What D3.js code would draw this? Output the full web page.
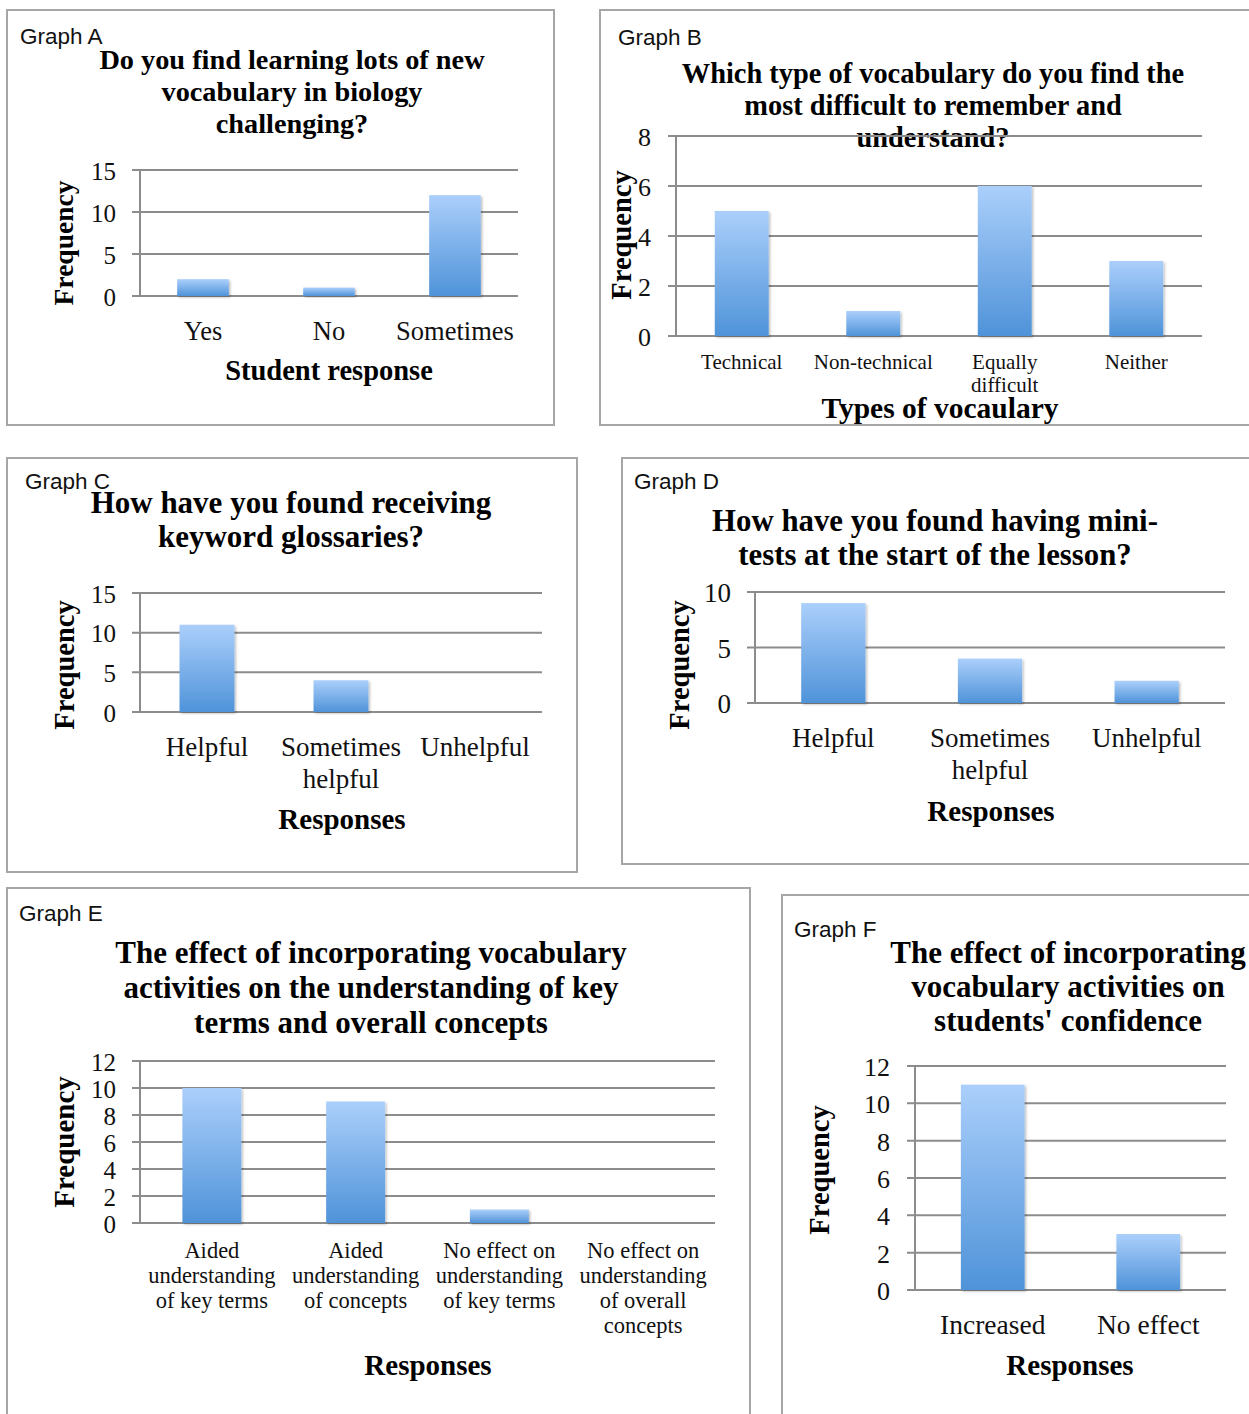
<!DOCTYPE html>
<html>
<head>
<meta charset="utf-8">
<script src="https://cdn.jsdelivr.net/npm/d3@7"></script>
<style>
  html, body { margin: 0; padding: 0; background: #fff; }
  svg { display: block; }
  .serif { font-family: "Liberation Serif", "Times New Roman", serif; }
  .sans { font-family: "Liberation Sans", Arial, sans-serif; }
</style>
</head>
<body>
<svg id="chart" width="1249" height="1414"></svg>
<script>
// ---- Survey results ----
const graphACategories = ["Yes", "No", "Sometimes"];
const graphAValues = [2, 1, 12];
const graphATicks = [0, 5, 10, 15];

const graphBCategories = ["Technical", "Non-technical", "Equally\ndifficult", "Neither"];
const graphBValues = [5, 1, 6, 3];
const graphBTicks = [0, 2, 4, 6, 8];

const graphCCategories = ["Helpful", "Sometimes\nhelpful", "Unhelpful"];
const graphCValues = [11, 4, 0];
const graphCTicks = [0, 5, 10, 15];

const graphDCategories = ["Helpful", "Sometimes\nhelpful", "Unhelpful"];
const graphDValues = [9, 4, 2];
const graphDTicks = [0, 5, 10];

const graphECategories = [
  "Aided\nunderstanding\nof key terms",
  "Aided\nunderstanding\nof concepts",
  "No effect on\nunderstanding\nof key terms",
  "No effect on\nunderstanding\nof overall\nconcepts"
];
const graphEValues = [10, 9, 1, 0];
const graphETicks = [0, 2, 4, 6, 8, 10, 12];

const graphFCategories = ["Increased", "No effect"];
const graphFValues = [11, 3];
const graphFTicks = [0, 2, 4, 6, 8, 10, 12];

// ---- Panel layouts ----
const panels = [
  {
    name: "Graph A", categories: graphACategories, values: graphAValues, ticks: graphATicks,
    title: ["Do you find learning lots of new", "vocabulary in biology", "challenging?"],
    xTitle: "Student response",
    frame: [7, 10, 547, 415], label: [20, 44],
    titleX: 292, titleY: 69, titleLH: 32, titleSize: 28.3,
    plot: { left: 140, right: 518, top: 170, bottom: 296 },
    tickX: 116, tickSize: 25, catY: 340, catSize: 26.5, catLH: 30,
    xTitlePos: [329, 380], xTitleSize: 28.5, yTitlePos: [65, 243], yTitleSize: 27.5
  },
  {
    name: "Graph B", categories: graphBCategories, values: graphBValues, ticks: graphBTicks,
    title: ["Which type of vocabulary do you find the", "most difficult to remember and", "understand?"],
    xTitle: "Types of vocaulary",
    frame: [600, 10, 660, 415], label: [618, 45],
    titleX: 933, titleY: 83, titleLH: 32, titleSize: 28.4,
    plot: { left: 676, right: 1202, top: 136, bottom: 336 },
    tickX: 651, tickSize: 26, catY: 369, catSize: 21, catLH: 23,
    xTitlePos: [940, 418], xTitleSize: 29.5, yTitlePos: [622, 235], yTitleSize: 28.5
  },
  {
    name: "Graph C", categories: graphCCategories, values: graphCValues, ticks: graphCTicks,
    title: ["How have you found receiving", "keyword glossaries?"],
    xTitle: "Responses",
    frame: [7, 458, 570, 414], label: [25, 489],
    titleX: 291, titleY: 513, titleLH: 34, titleSize: 31,
    plot: { left: 140, right: 542, top: 593, bottom: 712 },
    tickX: 116, tickSize: 25, catY: 756, catSize: 27, catLH: 32,
    xTitlePos: [342, 829], xTitleSize: 29, yTitlePos: [65, 665], yTitleSize: 28.5
  },
  {
    name: "Graph D", categories: graphDCategories, values: graphDValues, ticks: graphDTicks,
    title: ["How have you found having mini-", "tests at the start of the lesson?"],
    xTitle: "Responses",
    frame: [622, 458, 640, 406], label: [634, 489],
    titleX: 935, titleY: 531, titleLH: 34, titleSize: 30.8,
    plot: { left: 755, right: 1225, top: 592, bottom: 703 },
    tickX: 731, tickSize: 27, catY: 747, catSize: 27, catLH: 32,
    xTitlePos: [991, 821], xTitleSize: 29, yTitlePos: [680, 665], yTitleSize: 28.5
  },
  {
    name: "Graph E", categories: graphECategories, values: graphEValues, ticks: graphETicks,
    title: ["The effect of incorporating vocabulary", "activities on the understanding of key", "terms and overall concepts"],
    xTitle: "Responses",
    frame: [7, 888, 743, 540], label: [19, 921],
    titleX: 371, titleY: 963, titleLH: 35, titleSize: 31,
    plot: { left: 140, right: 715, top: 1061, bottom: 1223 },
    tickX: 116, tickSize: 25, catY: 1258, catSize: 22.5, catLH: 25,
    xTitlePos: [428, 1375], xTitleSize: 29, yTitlePos: [65, 1142], yTitleSize: 29
  },
  {
    name: "Graph F", categories: graphFCategories, values: graphFValues, ticks: graphFTicks,
    title: ["The effect of incorporating", "vocabulary activities on", "students' confidence"],
    xTitle: "Responses",
    frame: [782, 895, 480, 540], label: [794, 937],
    titleX: 1068, titleY: 963, titleLH: 34, titleSize: 31,
    plot: { left: 915, right: 1226, top: 1066, bottom: 1290 },
    tickX: 890, tickSize: 26, catY: 1334, catSize: 27.5, catLH: 32,
    xTitlePos: [1070, 1375], xTitleSize: 29, yTitlePos: [820, 1170], yTitleSize: 28.5
  }
];

const svg = d3.select("#chart");
const GRID = "#8c8c8c";

// Bar fill: light sky blue at the top fading to a deeper blue at the base
const defs = svg.append("defs");
const grad = defs.append("linearGradient")
  .attr("id", "barFill").attr("x1", 0).attr("y1", 0).attr("x2", 0).attr("y2", 1);
grad.append("stop").attr("offset", "0%").attr("stop-color", "#abcffb");
grad.append("stop").attr("offset", "100%").attr("stop-color", "#4f93d9");

const shadow = defs.append("filter").attr("id", "barShadow")
  .attr("x", "-20%").attr("y", "-20%").attr("width", "140%").attr("height", "140%");
shadow.append("feDropShadow").attr("dx", 1.5).attr("dy", 1.5)
  .attr("stdDeviation", 1.2).attr("flood-color", "#000").attr("flood-opacity", 0.25);

function drawPanel(p) {
  const g = svg.append("g");
  const [fx, fy, fw, fh] = p.frame;

  g.append("rect")
    .attr("x", fx).attr("y", fy).attr("width", fw).attr("height", fh)
    .attr("fill", "#fff").attr("stroke", "#a6a6a6").attr("stroke-width", 2);

  g.append("text").attr("class", "sans")
    .attr("x", p.label[0]).attr("y", p.label[1])
    .attr("font-size", 22.5).attr("fill", "#111")
    .text(p.name);

  g.append("text").attr("class", "serif")
    .attr("text-anchor", "middle").attr("font-weight", "bold")
    .attr("font-size", p.titleSize).attr("fill", "#000")
    .selectAll("tspan").data(p.title).join("tspan")
    .attr("x", p.titleX)
    .attr("y", (d, i) => p.titleY + i * p.titleLH)
    .text(d => d);

  const { left, right, top, bottom } = p.plot;
  const maxTick = d3.max(p.ticks);
  const y = d3.scaleLinear().domain([0, maxTick]).range([bottom, top]);
  const x = d3.scaleBand().domain(p.categories).range([left, right])
    .paddingInner(0.59).paddingOuter(0.295);

  // Horizontal gridlines, each with a short tick poking left of the axis
  g.append("g").selectAll("line").data(p.ticks).join("line")
    .attr("x1", left - 8).attr("x2", right)
    .attr("y1", d => y(d)).attr("y2", d => y(d))
    .attr("stroke", GRID).attr("stroke-width", 2);

  // Value axis: vertical line plus numeric labels
  const yAxis = d3.axisLeft(y).tickValues(p.ticks).tickSize(0).tickPadding(0)
    .tickFormat(d3.format("d"));
  const ya = g.append("g").attr("transform", `translate(${p.tickX},0)`).call(yAxis);
  ya.select(".domain").remove();
  ya.selectAll("text")
    .attr("class", "serif")
    .attr("font-size", p.tickSize).attr("fill", "#111").attr("dy", "0.36em");

  g.append("line")
    .attr("x1", left).attr("x2", left).attr("y1", top).attr("y2", bottom)
    .attr("stroke", GRID).attr("stroke-width", 2);

  // Bars
  const rows = p.categories.map((c, i) => ({ c, v: p.values[i] }));
  g.append("g").selectAll("rect").data(rows.filter(d => d.v > 0)).join("rect")
    .attr("x", d => x(d.c))
    .attr("y", d => y(d.v))
    .attr("width", x.bandwidth())
    .attr("height", d => y(0) - y(d.v))
    .attr("fill", "url(#barFill)")
    .attr("filter", "url(#barShadow)");

  // Category labels (may wrap over several lines)
  const cat = g.append("g").selectAll("text").data(p.categories).join("text")
    .attr("class", "serif").attr("text-anchor", "middle")
    .attr("font-size", p.catSize).attr("fill", "#111");
  cat.selectAll("tspan").data(d => d.split("\n").map(t => ({ t, c: d }))).join("tspan")
    .attr("x", d => x(d.c) + x.bandwidth() / 2)
    .attr("y", (d, i) => p.catY + i * p.catLH)
    .text(d => d.t);

  g.append("text").attr("class", "serif")
    .attr("text-anchor", "middle").attr("font-weight", "bold")
    .attr("font-size", p.xTitleSize).attr("fill", "#000")
    .attr("x", p.xTitlePos[0]).attr("y", p.xTitlePos[1])
    .text(p.xTitle);

  g.append("text").attr("class", "serif")
    .attr("text-anchor", "middle").attr("font-weight", "bold")
    .attr("font-size", p.yTitleSize).attr("fill", "#000")
    .attr("transform", `translate(${p.yTitlePos[0] + p.yTitleSize * 0.3},${p.yTitlePos[1]}) rotate(-90)`)
    .text("Frequency");
}

panels.forEach(drawPanel);
</script>
</body>
</html>
